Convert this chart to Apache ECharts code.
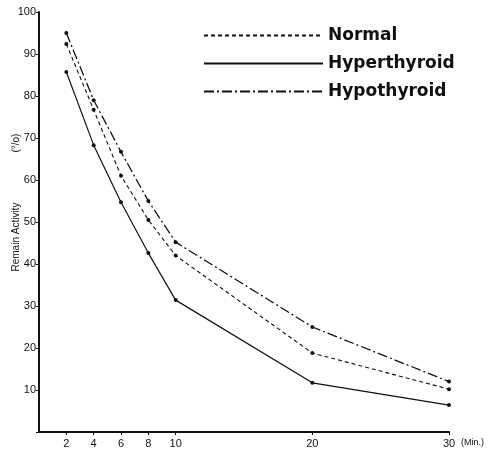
<!DOCTYPE html>
<html><head><meta charset="utf-8">
<script src="https://cdn.jsdelivr.net/npm/echarts@6/dist/echarts.min.js"></script>
<style>html,body{margin:0;padding:0;background:#fff}#c{width:494px;height:452px}</style>
</head><body><div id="c"></div>
<script>
const times = [2, 4, 6, 8, 10, 20, 30];
const normal = [92.4, 76.7, 61, 50.5, 42, 18.8, 10.2];
const hyper = [85.7, 68.3, 54.7, 42.6, 31.4, 11.7, 6.4];
const hypo = [95, 79, 66.7, 55, 45.2, 25, 12];
const xTicks = [2, 4, 6, 8, 10, 20, 30];
const seriesNames = ['Normal', 'Hyperthyroid', 'Hypothyroid'];
const yName = '              Remain Activity                  (°/o)';

const chart = echarts.init(document.getElementById('c'));
const pair = arr => times.map((t, i) => [t, arr[i]]);
const lineStyles = [
  {type: [4, 3], width: 1.1, color: '#111'},
  {type: 'solid', width: 1.2, color: '#111'},
  {type: [10, 3, 2, 3], width: 1.3, color: '#111'}
];
const datas = [normal, hyper, hypo];
chart.setOption({
  animation: false,
  grid: {left: 39, right: 45, top: 12, bottom: 20, outerBoundsMode: 'none', containLabel: false},
  legend: {
    orient: 'vertical', left: 203, top: 27, padding: 0, itemWidth: 119, itemHeight: 10, itemGap: 11,
    itemStyle: {opacity: 0},
    textStyle: {fontFamily: 'DejaVu Sans', fontWeight: 'bold', fontSize: 17, color: '#111'},
    data: seriesNames
  },
  xAxis: {
    type: 'value', min: 0, max: 30,
    name: '(Min.)', nameLocation: 'end', nameGap: 1,
    nameTextStyle: {fontFamily: 'Liberation Sans', fontSize: 9, color: '#111', verticalAlign: 'top', padding: [6, 0, 0, 0]},
    axisLine: {lineStyle: {color: '#111', width: 2}},
    axisTick: {show: true, customValues: xTicks, length: 3, inside: false, lineStyle: {color: '#111'}},
    axisLabel: {customValues: xTicks, fontFamily: 'Liberation Sans', fontSize: 11, color: '#111', margin: 6},
    splitLine: {show: false}
  },
  yAxis: {
    type: 'value', min: 0, max: 100, interval: 10,
    name: yName, nameLocation: 'middle', nameRotate: 90, nameGap: 18, nameMoveOverlap: false,
    nameTextStyle: {fontFamily: 'Liberation Sans', fontSize: 10, color: '#111'},
    axisLine: {lineStyle: {color: '#111', width: 2}},
    axisTick: {show: true, length: 3, lineStyle: {color: '#111'}},
    axisLabel: {fontFamily: 'Liberation Sans', fontSize: 11, color: '#111', margin: 3,
      formatter: v => v === 0 ? '' : String(v)},
    splitLine: {show: false}
  },
  series: seriesNames.map((n, i) => ({
    name: n, type: 'line', data: pair(datas[i]),
    symbol: 'circle', symbolSize: 4,
    itemStyle: {color: '#111'},
    lineStyle: lineStyles[i]
  }))
});
</script></body></html>
